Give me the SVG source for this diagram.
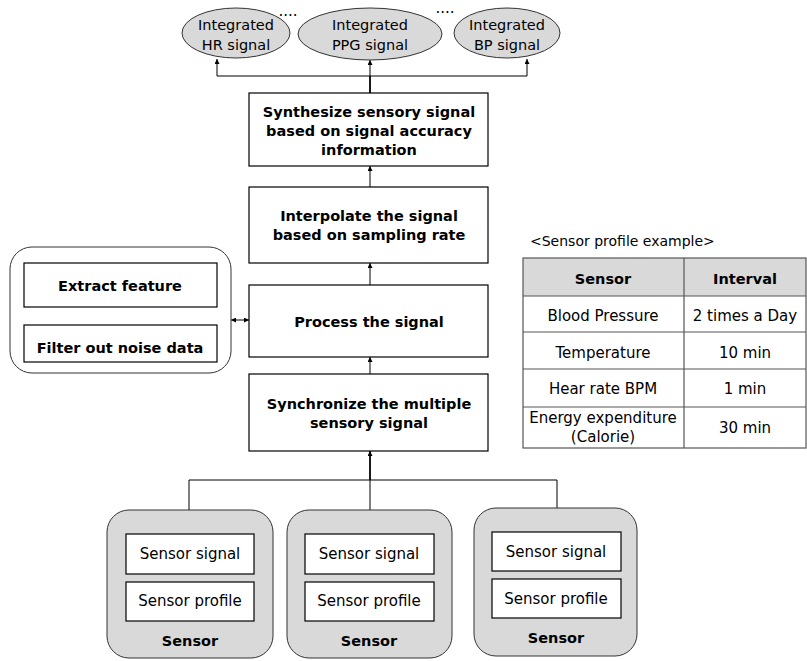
<svg xmlns="http://www.w3.org/2000/svg" width="807" height="661" viewBox="0 0 807 661">
<style>
text{font-family:"DejaVu Sans","Noto Sans",sans-serif;font-size:15px;fill:#000;text-anchor:middle;dominant-baseline:central}
.b{font-weight:bold;font-size:14.5px}
.et{font-size:14.5px}
.box{fill:#fff;stroke:#000;stroke-width:1.2}
.ell{fill:#d9d9d9;stroke:#333;stroke-width:1}
.grp{fill:#d9d9d9;stroke:#333;stroke-width:1}
.ln{fill:none;stroke:#000;stroke-width:1}
.thk{fill:none;stroke:#000;stroke-width:1.8}
.tl{stroke:#555;stroke-width:1.2;fill:none}
</style>
<defs>
<marker id="ah" viewBox="0 0 10 10" refX="10" refY="5" markerWidth="5" markerHeight="5" orient="auto-start-reverse" markerUnits="userSpaceOnUse"><path d="M0,0 L10,5 L0,10 z" fill="#000"/></marker>
</defs>

<g id="connectors">
<polyline class="ln" points="217,76 217,59" marker-end="url(#ah)"/>
<polyline class="ln" points="217,76 527,76 527,59" marker-end="url(#ah)"/>
<line class="thk" x1="370" y1="93" x2="370" y2="76"/>
<line class="ln" x1="370" y1="76" x2="370" y2="60" marker-end="url(#ah)"/>
<line class="ln" x1="370" y1="187" x2="370" y2="166" marker-end="url(#ah)"/>
<line class="ln" x1="370" y1="285" x2="370" y2="263" marker-end="url(#ah)"/>
<line class="ln" x1="370" y1="374" x2="370" y2="357" marker-end="url(#ah)"/>
<line class="thk" x1="370" y1="480" x2="370" y2="451" marker-end="url(#ah)"/>
<polyline class="ln" points="189,510 189,480 557,480 557,508"/>
<line class="ln" x1="370" y1="480" x2="370" y2="510"/>
<line class="ln" x1="231" y1="320" x2="249" y2="320" marker-start="url(#ah)" marker-end="url(#ah)"/>
</g>

<g id="dots">
<text x="288" y="11">....</text>
<text x="445" y="8">....</text>
</g>

<g id="hr">
<ellipse class="ell" cx="236" cy="33" rx="54" ry="25"/>
<text class="et" x="236" y="25">Integrated</text>
<text class="et" x="236" y="45">HR signal</text>
</g>
<g id="ppg">
<ellipse class="ell" cx="370" cy="34" rx="72" ry="26"/>
<text class="et" x="370" y="25">Integrated</text>
<text class="et" x="370" y="45">PPG signal</text>
</g>
<g id="bp">
<ellipse class="ell" cx="507" cy="33" rx="53" ry="25"/>
<text class="et" x="507" y="25">Integrated</text>
<text class="et" x="507" y="45">BP signal</text>
</g>

<g id="synthesize">
<rect class="box" x="249" y="93" width="239" height="73"/>
<text class="b" x="369" y="112">Synthesize sensory signal</text>
<text class="b" x="369" y="131">based on signal accuracy</text>
<text class="b" x="369" y="150">information</text>
</g>
<g id="interpolate">
<rect class="box" x="249" y="187" width="239" height="76"/>
<text class="b" x="369" y="216">Interpolate the signal</text>
<text class="b" x="369" y="235">based on sampling rate</text>
</g>
<g id="process">
<rect class="box" x="249" y="285" width="239" height="72"/>
<text class="b" x="369" y="322">Process the signal</text>
</g>
<g id="synchronize">
<rect class="box" x="249" y="374" width="239" height="77"/>
<text class="b" x="369" y="404">Synchronize the multiple</text>
<text class="b" x="369" y="423">sensory signal</text>
</g>

<g id="processing-group">
<rect x="10" y="247" width="221" height="126" rx="22" fill="#fff" stroke="#333" stroke-width="1"/>
<rect class="box" x="24" y="263" width="193" height="44"/>
<text class="b" x="120" y="286">Extract feature</text>
<rect class="box" x="24" y="325" width="193" height="37"/>
<text class="b" x="120" y="348">Filter out noise data</text>
</g>

<g id="sensor1">
<rect class="grp" x="107" y="510" width="166" height="148" rx="22"/>
<rect class="box" x="126" y="534" width="128" height="40"/>
<text x="190" y="554">Sensor signal</text>
<rect class="box" x="126" y="582" width="128" height="39"/>
<text x="190" y="601">Sensor profile</text>
<text class="b" x="190" y="641">Sensor</text>
</g>
<g id="sensor2">
<rect class="grp" x="287" y="510" width="165" height="148" rx="22"/>
<rect class="box" x="305" y="534" width="129" height="40"/>
<text x="369" y="554">Sensor signal</text>
<rect class="box" x="305" y="582" width="129" height="39"/>
<text x="369" y="601">Sensor profile</text>
<text class="b" x="369" y="641">Sensor</text>
</g>
<g id="sensor3">
<rect class="grp" x="474" y="508" width="163" height="148" rx="22"/>
<rect class="box" x="492" y="532" width="129" height="39"/>
<text x="556" y="552">Sensor signal</text>
<rect class="box" x="492" y="579" width="129" height="39"/>
<text x="556" y="599">Sensor profile</text>
<text class="b" x="556" y="638">Sensor</text>
</g>

<g id="profile-table">
<text x="530" y="241" style="text-anchor:start;font-size:14px">&lt;Sensor profile example&gt;</text>
<rect x="523" y="258" width="283" height="38" fill="#d9d9d9"/>
<rect x="523" y="258" width="283" height="190" class="tl"/>
<line class="tl" x1="684" y1="258" x2="684" y2="448"/>
<line class="tl" x1="523" y1="296" x2="806" y2="296"/>
<line class="tl" x1="523" y1="332" x2="806" y2="332"/>
<line class="tl" x1="523" y1="369" x2="806" y2="369"/>
<line class="tl" x1="523" y1="407" x2="806" y2="407"/>
<text class="b" x="603" y="279">Sensor</text>
<text class="b" x="745" y="279">Interval</text>
<text x="603" y="316">Blood Pressure</text>
<text x="745" y="316">2 times a Day</text>
<text x="603" y="353">Temperature</text>
<text x="745" y="353">10 min</text>
<text x="603" y="389">Hear rate BPM</text>
<text x="745" y="389">1 min</text>
<text x="603" y="418">Energy expenditure</text>
<text x="603" y="437">(Calorie)</text>
<text x="745" y="428">30 min</text>
</g>
</svg>
